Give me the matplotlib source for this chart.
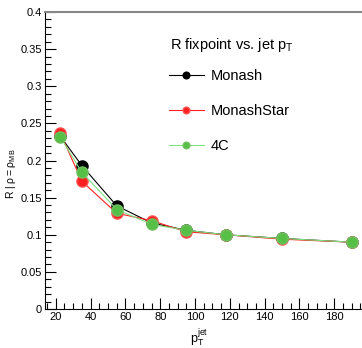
import matplotlib.pyplot as plt
from matplotlib.ticker import MultipleLocator

plt.rcParams['font.family'] = ['Liberation Sans', 'DejaVu Sans']

pt_jet = [22.5, 35, 55, 75, 95, 117.5, 150, 190]
monash = [0.233, 0.193, 0.139, 0.116, 0.106, 0.100, 0.095, 0.090]
monash_star = [0.237, 0.172, 0.129, 0.119, 0.104, 0.100, 0.094, 0.090]
tune_4c = [0.232, 0.184, 0.134, 0.114, 0.106, 0.100, 0.095, 0.090]

fig = plt.figure(figsize=(3.62, 3.48), dpi=100)
ax = fig.add_axes([45/362, 1 - 309/348, 1 - 45/362 + 0.01, 297/348])

ax.plot(pt_jet, monash, '-o', color='black', lw=0.8, ms=8, mec='black', label='Monash', zorder=3)
ax.plot(pt_jet, monash_star, '-o', color='#ff2020', lw=0.8, ms=8, mec='#ff5050', label='MonashStar', zorder=4)
ax.plot(pt_jet, tune_4c, '-o', color='#7fe07f', lw=0.8, ms=8, mfc='#55c045', mec='#70c060', label='4C', zorder=5)

ax.set_xlim(13.8, 198)
ax.set_ylim(0, 0.4)
ax.xaxis.set_major_locator(MultipleLocator(20))
ax.xaxis.set_minor_locator(MultipleLocator(5))
ax.yaxis.set_minor_locator(MultipleLocator(0.01))
ax.set_yticks([0, 0.05, 0.1, 0.15, 0.2, 0.25, 0.3, 0.35, 0.4])
ax.set_yticklabels(['0', '0.05', '0.1', '0.15', '0.2', '0.25', '0.3', '0.35', '0.4'])
ax.tick_params(which='major', direction='in', length=8, width=0.8, labelsize=8, pad=2)
ax.tick_params(which='minor', direction='in', length=4, width=0.8)
ax.spines['right'].set_visible(False)
ax.spines['top'].set_color('#888888')
ax.spines['top'].set_linewidth(1.5)

ax.set_xlabel(r'$\mathregular{p_T^{jet}}$', fontsize=9)
ax.xaxis.set_label_coords(0.48, -0.062)
ax.set_ylabel(r'R | $\mathregular{\rho=\rho_{MB}}$', fontsize=7.5)
ax.yaxis.set_label_coords(-0.085, 0.455)

fig.text(170/362, 1 - 45/348, r'R fixpoint vs. jet $\mathregular{p_T}$', fontsize=10.5,
         ha='left', va='center')
leg = ax.legend(loc='upper left', bbox_to_anchor=(0.345, 0.853), frameon=False,
                fontsize=10.5, handlelength=2.4, markerscale=0.6,
                labelspacing=1.45, handletextpad=0.5)

fig.savefig('out.png', dpi=100)
